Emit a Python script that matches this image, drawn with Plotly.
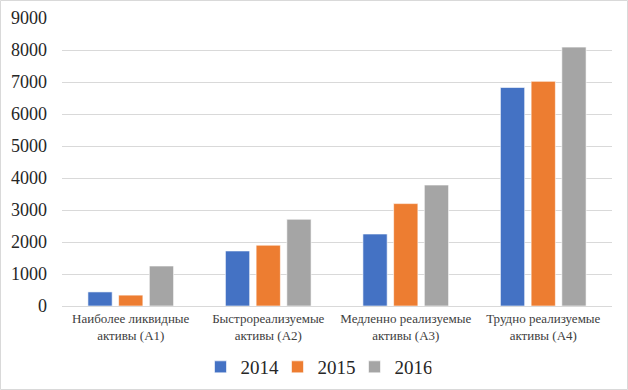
import plotly.graph_objects as go

categories = ["Наиболее ликвидные<br>активы (А1)", "Быстрореализуемые<br>активы (А2)",
              "Медленно реализуемые<br>активы (А3)", "Трудно реализуемые<br>активы (А4)"]
years = ["2014", "2015", "2016"]
v2014 = [440, 1720, 2250, 6830]
v2015 = [340, 1900, 3200, 7020]
v2016 = [1250, 2710, 3780, 8090]
colors = ["#4472C4", "#ED7D31", "#A5A5A5"]
tick_vals = [0, 1000, 2000, 3000, 4000, 5000, 6000, 7000, 8000, 9000]

W, H = 628, 390
ml, mr, mt, mb = 62, 16, 18, 84
pw, ph = W - ml - mr, H - mt - mb

FF = "'Liberation Serif', 'Times New Roman', serif"

fig = go.Figure()
for name, vals, c in zip(years, [v2014, v2015, v2016], colors):
    fig.add_trace(go.Bar(x=categories, y=vals, name=name, marker_color=c,
                         marker_line_color="white", marker_line_width=0.6))

fig.update_layout(
    width=W, height=H,
    margin=dict(l=ml, r=mr, t=mt, b=mb, autoexpand=False),
    paper_bgcolor="white", plot_bgcolor="white",
    barmode="group", bargap=0.33, bargroupgap=0.21,
    font=dict(family=FF, color="#404040"),
    showlegend=True,
    legend=dict(orientation="h", xref="container", x=316 / W, xanchor="center",
                yref="container", y=1 - 367 / H, yanchor="middle",
                font=dict(family=FF, size=19, color="#262626"),
                entrywidth=32, entrywidthmode="pixels", traceorder="normal"),
    xaxis=dict(showgrid=False, showline=False, ticks="", tickangle=0, automargin=False,
               ticklabelstandoff=3,
               tickfont=dict(family=FF, size=13, color="#404040")),
    yaxis=dict(range=[0, 9000], tickvals=tick_vals, showgrid=True, gridcolor="#D9D9D9",
               gridwidth=1, zeroline=True, zerolinecolor="#D9D9D9", zerolinewidth=1,
               tickfont=dict(family=FF, size=18, color="#262626"), ticklabelstandoff=14,
               automargin=False, showline=False),
    shapes=[dict(type="rect", xref="paper", yref="paper",
                 x0=-(ml - 0.5) / pw, x1=1 + (mr - 0.5) / pw,
                 y0=-(mb - 0.5) / ph, y1=1 + (mt - 0.5) / ph,
                 line=dict(color="#D9D9D9", width=1), layer="below")],
)
fig.write_html("out.html", config={"displayModeBar": False},
               post_script="document.body.style.margin='0px';")
